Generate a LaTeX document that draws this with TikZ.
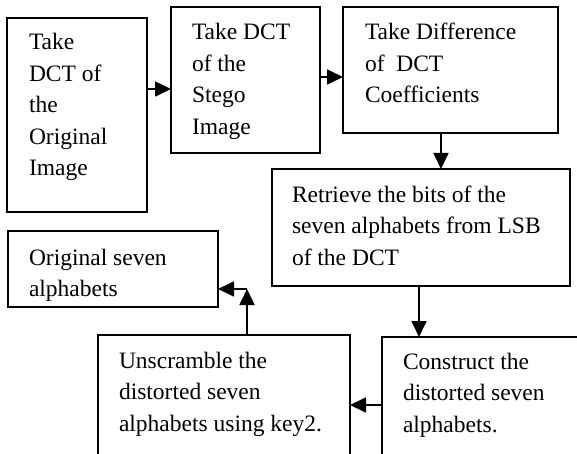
\documentclass[tikz,border=0pt]{standalone}
\usepackage{fontspec}
\setmainfont{Liberation Serif}
\usetikzlibrary{arrows.meta}
\newcommand{\blk}[1]{\begin{tabular}[t]{@{}l@{}}#1\end{tabular}}
\begin{document}
\begin{tikzpicture}[x=1pt,y=-1pt,
  box/.style={draw=black, line width=1.7pt, inner sep=0pt, outer sep=0pt, anchor=north west},
  txt/.style={anchor=base west, inner sep=0pt, outer sep=0pt, font=\fontsize{23.5}{31.5}\selectfont},
  arr/.style={line width=1.7pt, -{Triangle[length=16pt,width=15pt]}}]
\useasboundingbox (0,0) rectangle (577,454);
\clip (0,0) rectangle (577,454);
% boxes
\node[box, minimum width=140pt, minimum height=194pt] (b1) at (7,18) {};
\node[box, minimum width=149pt, minimum height=146pt] (b2) at (171,7) {};
\node[box, minimum width=215pt, minimum height=126pt] (b3) at (343,7) {};
\node[box, minimum width=298pt, minimum height=117pt] (b4) at (272,169) {};
\node[box, minimum width=252pt, minimum height=150pt] (b5) at (98,335) {};
\node[box, minimum width=230pt, minimum height=150pt] (b6) at (382,337) {};
\node[box, minimum width=210pt, minimum height=76pt] (b7) at (8,231) {};
% texts
\node[txt] (t1) at (29,50) {\blk{Take\\DCT of\\the\\Original\\Image}};
\node[txt] (t2) at (192,40) {\blk{Take DCT\\of the\\Stego\\Image}};
\node[txt] (t3) at (365,40) {\blk{Take Difference\\of\ \ DCT\\Coefficients}};
\node[txt] (t4) at (292,202) {\blk{Retrieve the bits of the\\seven alphabets from LSB\\of the DCT}};
\node[txt] (t5) at (119,368) {\blk{Unscramble the\\distorted seven\\alphabets using key2.}};
\node[txt] (t6) at (403,369) {\blk{Construct the\\distorted seven\\alphabets.}};
\node[txt] (t7) at (29,265) {\blk{Original seven\\alphabets}};
% connectors
\coordinate (c1) at (247,289);
\draw[arr] (b1.east |- 0,89) -- (b2.west |- 0,89);
\draw[arr] (b2.east |- 0,77) -- (b3.west |- 0,77);
\draw[arr] (b3.south -| 441,0) -- (b4.north -| 441,0);
\draw[arr] (b4.south -| 419,0) -- (b6.north -| 419,0);
\draw[arr] (b6.west |- 0,405) -- (b5.east |- 0,405);
\draw[arr] (b5.north -| c1) -- (c1);
\draw[arr] (c1) -- (b7.east |- c1);
\end{tikzpicture}
\end{document}
